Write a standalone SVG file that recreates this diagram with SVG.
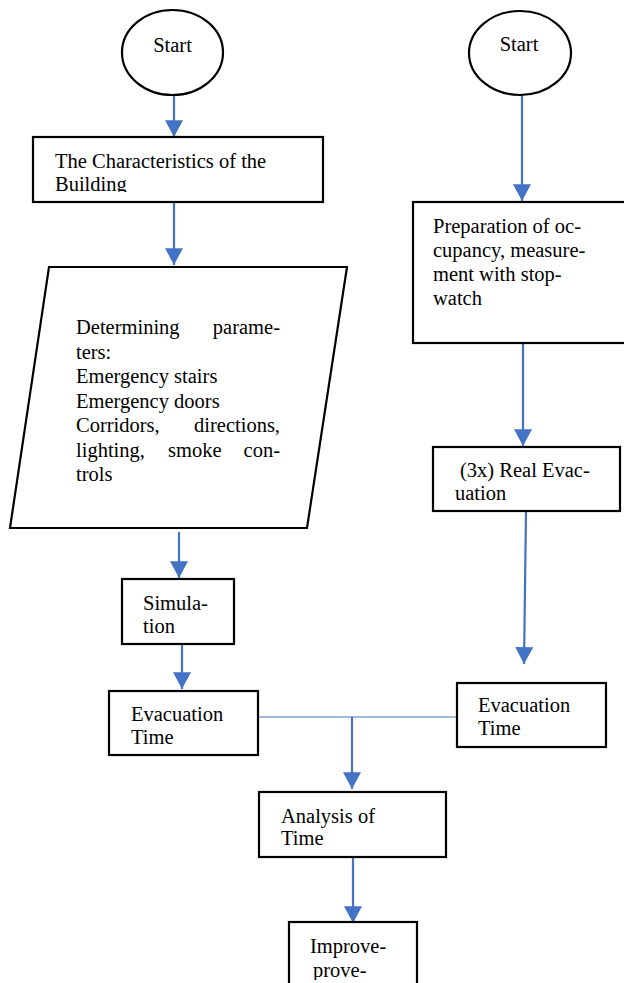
<svg xmlns="http://www.w3.org/2000/svg" width="624" height="983" viewBox="0 0 624 983">
<style>
.shape{fill:#fff;stroke:#000;stroke-width:2.2}
.t{font-family:"Liberation Serif","Times New Roman",serif;font-size:20.5px;fill:#000}
.c{stroke:#4472C4;stroke-width:2.2;fill:none}
.thin{stroke:#4472C4;stroke-width:1.2;fill:none}
</style>
<defs>
<marker id="ah" markerUnits="userSpaceOnUse" markerWidth="18" markerHeight="18" viewBox="0 0 16 16" refX="15" refY="8" orient="auto">
<path d="M0,0 L15,8 L0,16 Z" fill="#4472C4"/>
</marker>
<clipPath id="cb1"><rect x="34" y="138" width="288" height="54"/></clipPath>
<clipPath id="cpar"><rect x="0" y="300" width="360" height="181"/></clipPath>
<clipPath id="csim"><rect x="123" y="580" width="110" height="54"/></clipPath>
<clipPath id="creal"><rect x="434" y="448" width="185" height="53"/></clipPath>
<clipPath id="cev2"><rect x="458" y="684" width="147" height="52"/></clipPath>
<clipPath id="cimp"><rect x="290" y="923" width="126" height="57"/></clipPath>
</defs>
<g id="connectors">
<line class="c" x1="174" y1="95" x2="174" y2="137" marker-end="url(#ah)"/>
<line class="c" x1="174" y1="202" x2="174" y2="265" marker-end="url(#ah)"/>
<line class="c" x1="179" y1="532" x2="179" y2="578" marker-end="url(#ah)"/>
<line class="c" x1="182" y1="644" x2="182" y2="689" marker-end="url(#ah)"/>
<line class="c" x1="522" y1="95" x2="522" y2="201" marker-end="url(#ah)"/>
<line class="c" x1="523" y1="343" x2="523" y2="446" marker-end="url(#ah)"/>
<line class="c" x1="526" y1="511" x2="524" y2="664" marker-end="url(#ah)"/>
<line class="thin" x1="254" y1="717" x2="458" y2="717"/>
<line class="c" x1="352" y1="717" x2="352" y2="789" marker-end="url(#ah)"/>
<line class="c" x1="353" y1="857" x2="353" y2="923" marker-end="url(#ah)"/>
</g>
<g id="start1">
<ellipse class="shape" cx="172.5" cy="52.5" rx="50.5" ry="42.5"/>
<text class="t" x="172.5" y="52" text-anchor="middle">Start</text>
</g>
<g id="characteristics">
<rect class="shape" x="33" y="137" width="290" height="65"/>
<g clip-path="url(#cb1)">
<text class="t" x="55" y="168">The Characteristics of the</text>
<text class="t" x="55" y="191">Building</text>
</g>
</g>
<g id="parameters">
<polygon class="shape" points="49,267 347,267 307,528 10,528"/>
<g clip-path="url(#cpar)">
<text class="t" x="76" y="334">Determining</text>
<text class="t" x="280" y="334" text-anchor="end">parame-</text>
<text class="t" x="76" y="359">ters:</text>
<text class="t" x="76" y="383">Emergency stairs</text>
<text class="t" x="76" y="408">Emergency doors</text>
<text class="t" x="76" y="432">Corridors,</text>
<text class="t" x="280" y="432" text-anchor="end">directions,</text>
<text class="t" x="76" y="457">lighting,</text>
<text class="t" x="168" y="457">smoke</text>
<text class="t" x="280" y="457" text-anchor="end">con-</text>
<text class="t" x="76" y="481">trols</text>
</g>
</g>
<g id="simulation">
<rect class="shape" x="122" y="579" width="112" height="65"/>
<g clip-path="url(#csim)">
<text class="t" x="143" y="610">Simula-</text>
<text class="t" x="143" y="633">tion</text>
</g>
</g>
<g id="evac-time-left">
<rect class="shape" x="109" y="691" width="149" height="64"/>
<text class="t" x="131" y="721">Evacuation</text>
<text class="t" x="131" y="744">Time</text>
</g>
<g id="start2">
<ellipse class="shape" cx="520" cy="53" rx="51" ry="42"/>
<text class="t" x="519" y="51" text-anchor="middle">Start</text>
</g>
<g id="preparation">
<rect class="shape" x="413" y="202" width="240" height="141"/>
<text class="t" x="433" y="233">Preparation of oc-</text>
<text class="t" x="433" y="257">cupancy, measure-</text>
<text class="t" x="433" y="281">ment with stop-</text>
<text class="t" x="433" y="305">watch</text>
</g>
<g id="real-evacuation">
<rect class="shape" x="433" y="447" width="187" height="64"/>
<g clip-path="url(#creal)">
<text class="t" x="460" y="477">(3x) Real Evac-</text>
<text class="t" x="455" y="500">uation</text>
</g>
</g>
<g id="evac-time-right">
<rect class="shape" x="457" y="683" width="149" height="64"/>
<g clip-path="url(#cev2)">
<text class="t" x="478" y="712">Evacuation</text>
<text class="t" x="478" y="735">Time</text>
</g>
</g>
<g id="analysis">
<rect class="shape" x="259" y="792" width="187" height="65"/>
<text class="t" x="281" y="823">Analysis of</text>
<text class="t" x="281" y="845">Time</text>
</g>
<g id="improvement">
<rect class="shape" x="289" y="922" width="128" height="80"/>
<g clip-path="url(#cimp)">
<text class="t" x="310" y="953">Improve-</text>
<text class="t" x="313" y="977">prove-</text>
</g>
</g>
</svg>
